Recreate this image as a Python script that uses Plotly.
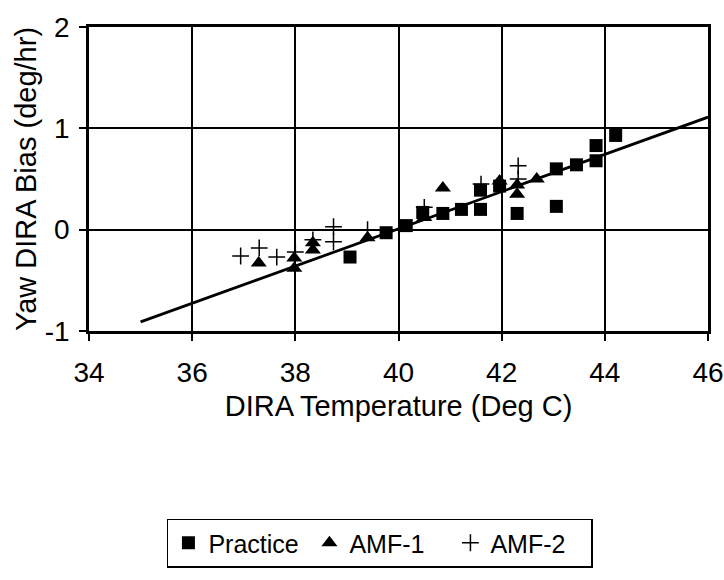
import plotly.graph_objects as go

# Data
practice_x = [39.06, 39.76, 40.15, 40.47, 40.86, 41.22, 41.59, 41.59, 41.96, 42.30, 43.06, 43.06, 43.45, 43.83, 43.83, 44.21]
practice_y = [-0.27, -0.03, 0.04, 0.17, 0.16, 0.20, 0.20, 0.39, 0.43, 0.16, 0.23, 0.60, 0.64, 0.68, 0.83, 0.93]

amf1_x = [37.29, 37.98, 37.98, 38.34, 38.34, 39.40, 40.50, 40.86, 41.96, 42.30, 42.30, 42.68]
amf1_y = [-0.33, -0.28, -0.38, -0.13, -0.20, -0.08, 0.12, 0.41, 0.48, 0.44, 0.35, 0.50]

amf2_x = [36.94, 37.30, 37.64, 38.00, 38.34, 38.74, 38.74, 39.40, 40.50, 41.60, 42.32, 42.32]
amf2_y = [-0.26, -0.18, -0.27, -0.22, -0.10, 0.03, -0.12, 0.00, 0.22, 0.45, 0.63, 0.50]

trend_x = [35.0, 46.0]
trend_y = [-0.91, 1.11]

x_ticks = [34, 36, 38, 40, 42, 44, 46]
y_ticks = [-1, 0, 1, 2]

FONT = "Liberation Sans, Arial, Helvetica, sans-serif"

fig = go.Figure()
fig.add_trace(go.Scatter(x=trend_x, y=trend_y, mode="lines",
                         line=dict(color="black", width=2.8), showlegend=False,
                         hoverinfo="skip"))
fig.add_trace(go.Scatter(x=practice_x, y=practice_y, mode="markers", name="Practice",
                         marker=dict(symbol="square", size=13, color="black")))
fig.add_trace(go.Scatter(x=amf1_x, y=amf1_y, mode="markers", name="AMF-1",
                         marker=dict(symbol="triangle-up", size=14, color="black")))
fig.add_trace(go.Scatter(x=amf2_x, y=amf2_y, mode="markers", name="AMF-2",
                         marker=dict(symbol="cross-thin", size=12, color="black",
                                     line=dict(color="black", width=1.5))))

axis_common = dict(
    showgrid=True, gridcolor="black", gridwidth=2,
    showline=True, linecolor="black", linewidth=2.5, mirror=True,
    ticks="outside", ticklen=7, tickwidth=1.5, tickcolor="black",
    zeroline=False, automargin=False,
    tickfont=dict(family=FONT, size=28, color="black"),
)

fig.update_layout(
    template="none",
    width=724, height=580,
    margin=dict(l=89, r=16, t=27, b=247, pad=0),
    paper_bgcolor="white", plot_bgcolor="white",
    font=dict(family=FONT, color="black"),
    xaxis=dict(range=[34, 46], tickvals=x_ticks, ticktext=[str(v) for v in x_ticks],
               title=dict(text="DIRA Temperature (Deg C)", font=dict(family=FONT, size=29, color="black"),
                          standoff=9),
               ticklabelstandoff=8, ticklabeloverflow="allow", **axis_common),
    yaxis=dict(range=[-1, 2], tickvals=y_ticks, ticktext=[str(v) for v in y_ticks],
               title=dict(text="Yaw DIRA Bias (deg/hr)", font=dict(family=FONT, size=29, color="black"),
                          standoff=0),
               ticklabelstandoff=4, ticklabeloverflow="allow", **axis_common),
    legend=dict(orientation="h", x=0.47, xanchor="center", y=-0.778, yanchor="bottom",
                bordercolor="black", borderwidth=1.5, bgcolor="white",
                entrywidth=96, entrywidthmode="pixels",
                font=dict(family=FONT, size=25, color="black")),
    showlegend=True,
)

# Remove the default 8px body margin of the page so the figure fills the window.
fig.write_html("out.html", config={"displayModeBar": False},
               post_script="document.body.style.margin='0px';")
